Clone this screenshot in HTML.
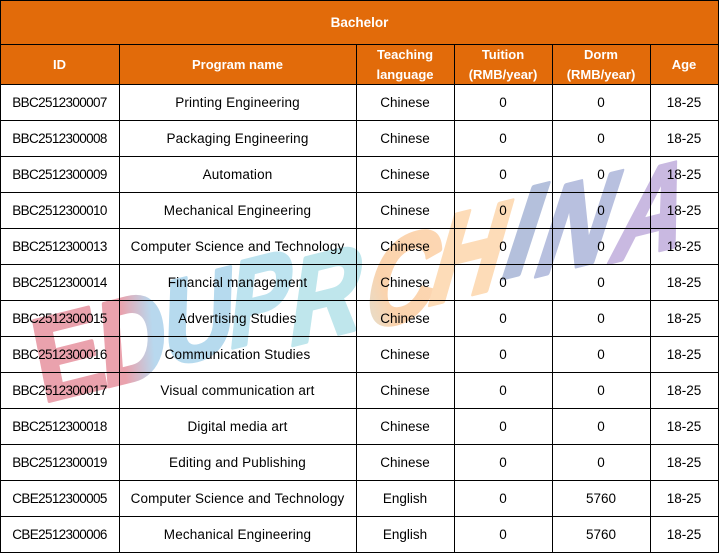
<!DOCTYPE html>
<html><head><meta charset="utf-8"><style>
html,body{margin:0;padding:0;background:#fff;}
#wrap{position:relative;width:719px;height:553px;overflow:hidden;background:#fff;font-family:"Liberation Sans",Arial,sans-serif;}
.hl{position:absolute;left:0;width:719px;height:1px;background:#000;}
.vl{position:absolute;top:44px;width:1px;height:509px;background:#000;}
.c{position:absolute;display:flex;align-items:center;justify-content:center;text-align:center;font-size:13.5px;color:#000;white-space:nowrap;padding-top:1px;box-sizing:border-box;}
.h{color:#fff;font-weight:bold;font-size:13px;line-height:20px;padding-top:2px;}
.id{letter-spacing:-0.65px;}
.nm{letter-spacing:0.15px;}
</style></head><body><div id="wrap">
<div style="position:absolute;left:0;top:0;width:719px;height:84px;background:#E26B0A;"></div>
<div class="c h" style="left:0;top:0;width:719px;height:44px;font-size:13.5px;">Bachelor</div>
<div class="c h" style="left:0;top:44px;width:119px;height:40px;">ID</div>
<div class="c h" style="left:119px;top:44px;width:237px;height:40px;">Program name</div>
<div class="c h" style="left:356px;top:44px;width:98px;height:40px;">Teaching<br>language</div>
<div class="c h" style="left:454px;top:44px;width:98px;height:40px;">Tuition<br>(RMB/year)</div>
<div class="c h" style="left:552px;top:44px;width:98px;height:40px;">Dorm<br>(RMB/year)</div>
<div class="c h" style="left:650px;top:44px;width:68px;height:40px;">Age</div>

<div class="hl" style="top:0"></div>
<div class="hl" style="top:44px"></div>
<div class="hl" style="top:84px"></div>
<div class="hl" style="top:120px"></div>
<div class="hl" style="top:156px"></div>
<div class="hl" style="top:192px"></div>
<div class="hl" style="top:228px"></div>
<div class="hl" style="top:264px"></div>
<div class="hl" style="top:300px"></div>
<div class="hl" style="top:336px"></div>
<div class="hl" style="top:372px"></div>
<div class="hl" style="top:408px"></div>
<div class="hl" style="top:444px"></div>
<div class="hl" style="top:480px"></div>
<div class="hl" style="top:516px"></div>
<div class="hl" style="top:552px"></div>
<div class="vl" style="left:0;top:0;height:553px"></div>
<div class="vl" style="left:119px"></div>
<div class="vl" style="left:356px"></div>
<div class="vl" style="left:454px"></div>
<div class="vl" style="left:552px"></div>
<div class="vl" style="left:650px"></div>
<div class="vl" style="left:718px;top:0;height:553px"></div>

<div class="c id" style="left:0;top:84px;width:119px;height:36px;">BBC2512300007</div>
<div class="c nm" style="left:119px;top:84px;width:237px;height:36px;">Printing Engineering</div>
<div class="c" style="left:356px;top:84px;width:98px;height:36px;">Chinese</div>
<div class="c" style="left:454px;top:84px;width:98px;height:36px;">0</div>
<div class="c" style="left:552px;top:84px;width:98px;height:36px;">0</div>
<div class="c" style="left:650px;top:84px;width:68px;height:36px;">18-25</div>

<div class="c id" style="left:0;top:120px;width:119px;height:36px;">BBC2512300008</div>
<div class="c nm" style="left:119px;top:120px;width:237px;height:36px;">Packaging Engineering</div>
<div class="c" style="left:356px;top:120px;width:98px;height:36px;">Chinese</div>
<div class="c" style="left:454px;top:120px;width:98px;height:36px;">0</div>
<div class="c" style="left:552px;top:120px;width:98px;height:36px;">0</div>
<div class="c" style="left:650px;top:120px;width:68px;height:36px;">18-25</div>

<div class="c id" style="left:0;top:156px;width:119px;height:36px;">BBC2512300009</div>
<div class="c nm" style="left:119px;top:156px;width:237px;height:36px;">Automation</div>
<div class="c" style="left:356px;top:156px;width:98px;height:36px;">Chinese</div>
<div class="c" style="left:454px;top:156px;width:98px;height:36px;">0</div>
<div class="c" style="left:552px;top:156px;width:98px;height:36px;">0</div>
<div class="c" style="left:650px;top:156px;width:68px;height:36px;">18-25</div>

<div class="c id" style="left:0;top:192px;width:119px;height:36px;">BBC2512300010</div>
<div class="c nm" style="left:119px;top:192px;width:237px;height:36px;">Mechanical Engineering</div>
<div class="c" style="left:356px;top:192px;width:98px;height:36px;">Chinese</div>
<div class="c" style="left:454px;top:192px;width:98px;height:36px;">0</div>
<div class="c" style="left:552px;top:192px;width:98px;height:36px;">0</div>
<div class="c" style="left:650px;top:192px;width:68px;height:36px;">18-25</div>

<div class="c id" style="left:0;top:228px;width:119px;height:36px;">BBC2512300013</div>
<div class="c nm" style="left:119px;top:228px;width:237px;height:36px;">Computer Science and Technology</div>
<div class="c" style="left:356px;top:228px;width:98px;height:36px;">Chinese</div>
<div class="c" style="left:454px;top:228px;width:98px;height:36px;">0</div>
<div class="c" style="left:552px;top:228px;width:98px;height:36px;">0</div>
<div class="c" style="left:650px;top:228px;width:68px;height:36px;">18-25</div>

<div class="c id" style="left:0;top:264px;width:119px;height:36px;">BBC2512300014</div>
<div class="c nm" style="left:119px;top:264px;width:237px;height:36px;">Financial management</div>
<div class="c" style="left:356px;top:264px;width:98px;height:36px;">Chinese</div>
<div class="c" style="left:454px;top:264px;width:98px;height:36px;">0</div>
<div class="c" style="left:552px;top:264px;width:98px;height:36px;">0</div>
<div class="c" style="left:650px;top:264px;width:68px;height:36px;">18-25</div>

<div class="c id" style="left:0;top:300px;width:119px;height:36px;">BBC2512300015</div>
<div class="c nm" style="left:119px;top:300px;width:237px;height:36px;">Advertising Studies</div>
<div class="c" style="left:356px;top:300px;width:98px;height:36px;">Chinese</div>
<div class="c" style="left:454px;top:300px;width:98px;height:36px;">0</div>
<div class="c" style="left:552px;top:300px;width:98px;height:36px;">0</div>
<div class="c" style="left:650px;top:300px;width:68px;height:36px;">18-25</div>

<div class="c id" style="left:0;top:336px;width:119px;height:36px;">BBC2512300016</div>
<div class="c nm" style="left:119px;top:336px;width:237px;height:36px;">Communication Studies</div>
<div class="c" style="left:356px;top:336px;width:98px;height:36px;">Chinese</div>
<div class="c" style="left:454px;top:336px;width:98px;height:36px;">0</div>
<div class="c" style="left:552px;top:336px;width:98px;height:36px;">0</div>
<div class="c" style="left:650px;top:336px;width:68px;height:36px;">18-25</div>

<div class="c id" style="left:0;top:372px;width:119px;height:36px;">BBC2512300017</div>
<div class="c nm" style="left:119px;top:372px;width:237px;height:36px;">Visual communication art</div>
<div class="c" style="left:356px;top:372px;width:98px;height:36px;">Chinese</div>
<div class="c" style="left:454px;top:372px;width:98px;height:36px;">0</div>
<div class="c" style="left:552px;top:372px;width:98px;height:36px;">0</div>
<div class="c" style="left:650px;top:372px;width:68px;height:36px;">18-25</div>

<div class="c id" style="left:0;top:408px;width:119px;height:36px;">BBC2512300018</div>
<div class="c nm" style="left:119px;top:408px;width:237px;height:36px;">Digital media art</div>
<div class="c" style="left:356px;top:408px;width:98px;height:36px;">Chinese</div>
<div class="c" style="left:454px;top:408px;width:98px;height:36px;">0</div>
<div class="c" style="left:552px;top:408px;width:98px;height:36px;">0</div>
<div class="c" style="left:650px;top:408px;width:68px;height:36px;">18-25</div>

<div class="c id" style="left:0;top:444px;width:119px;height:36px;">BBC2512300019</div>
<div class="c nm" style="left:119px;top:444px;width:237px;height:36px;">Editing and Publishing</div>
<div class="c" style="left:356px;top:444px;width:98px;height:36px;">Chinese</div>
<div class="c" style="left:454px;top:444px;width:98px;height:36px;">0</div>
<div class="c" style="left:552px;top:444px;width:98px;height:36px;">0</div>
<div class="c" style="left:650px;top:444px;width:68px;height:36px;">18-25</div>

<div class="c id" style="left:0;top:480px;width:119px;height:36px;">CBE2512300005</div>
<div class="c nm" style="left:119px;top:480px;width:237px;height:36px;">Computer Science and Technology</div>
<div class="c" style="left:356px;top:480px;width:98px;height:36px;">English</div>
<div class="c" style="left:454px;top:480px;width:98px;height:36px;">0</div>
<div class="c" style="left:552px;top:480px;width:98px;height:36px;">5760</div>
<div class="c" style="left:650px;top:480px;width:68px;height:36px;">18-25</div>

<div class="c id" style="left:0;top:516px;width:119px;height:36px;">CBE2512300006</div>
<div class="c nm" style="left:119px;top:516px;width:237px;height:36px;">Mechanical Engineering</div>
<div class="c" style="left:356px;top:516px;width:98px;height:36px;">English</div>
<div class="c" style="left:454px;top:516px;width:98px;height:36px;">0</div>
<div class="c" style="left:552px;top:516px;width:98px;height:36px;">5760</div>
<div class="c" style="left:650px;top:516px;width:68px;height:36px;">18-25</div>

<svg width="719" height="553" style="position:absolute;left:0;top:0;mix-blend-mode:multiply;pointer-events:none">
<defs>
<linearGradient id="gd" x1="0" y1="0" x2="1" y2="0"><stop offset="0.35" stop-color="#eaa2ad"/><stop offset="0.8" stop-color="#b8d8ee"/></linearGradient>
<linearGradient id="gc" x1="0" y1="1" x2="1" y2="0"><stop offset="0" stop-color="#d2e6e6"/><stop offset="0.35" stop-color="#fbd3ad"/><stop offset="1" stop-color="#fcd8b4"/></linearGradient>
</defs>
<g font-family="Liberation Sans, Arial, sans-serif" font-weight="bold" text-anchor="middle" stroke-width="4" stroke-linejoin="round">
<text font-size="118" fill="#eaa2ad" stroke="#eaa2ad" transform="translate(68,352) rotate(-14) skewX(-3) scale(0.88,1)" y="43">E</text>
<text font-size="118" fill="url(#gd)" stroke="url(#gd)" transform="translate(133,336) rotate(-14) skewX(-10) scale(0.8,1)" y="43">D</text>
<text font-size="118" fill="#b6daee" stroke="#b6daee" transform="translate(200,314) rotate(-14) skewX(-16) scale(0.85,1)" y="43">U</text>
<text font-size="118" fill="#bde3ef" stroke="#bde3ef" transform="translate(262,296) rotate(-14) skewX(-20) scale(0.8,1)" y="43">P</text>
<text font-size="118" fill="#bfe6ec" stroke="#bfe6ec" transform="translate(328,292) rotate(-14) skewX(-22) scale(0.85,1)" y="43">R</text>
<text font-size="118" fill="url(#gc)" stroke="url(#gc)" transform="translate(405,276) rotate(-14) skewX(-26) scale(0.85,1)" y="43">C</text>
<text font-size="118" fill="#fddcb8" stroke="#fddcb8" transform="translate(472,250) rotate(-14) skewX(-30) scale(0.85,1)" y="43">H</text>
<text font-size="118" fill="#b4c0dc" stroke="#b4c0dc" transform="translate(527,228) rotate(-14) skewX(-32) scale(0.95,1)" y="43">I</text>
<text font-size="118" fill="#b8c0df" stroke="#b8c0df" transform="translate(580,221) rotate(-14) skewX(-32) scale(0.85,1)" y="43">N</text>
<text font-size="118" fill="#c9b9e1" stroke="#c9b9e1" transform="translate(655,207) rotate(-14) skewX(-30) scale(0.85,1)" y="43">A</text>
</g>
</svg>
</div></body></html>
